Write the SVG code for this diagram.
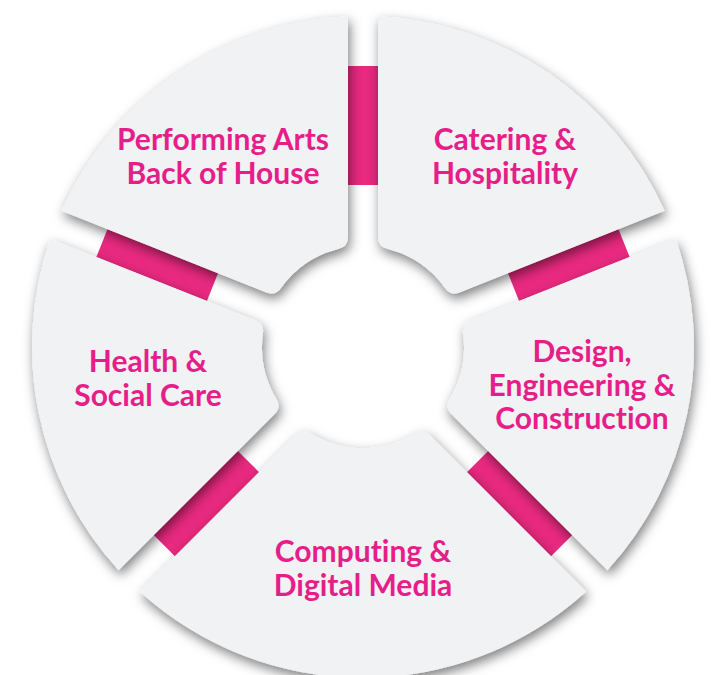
<svg xmlns="http://www.w3.org/2000/svg" width="711" height="675" viewBox="0 0 711 675">
<defs>
<style>
.seg{fill:#F1F2F4;filter:url(#sh);}
.bar{fill:#E8297F;}
.lbl{font-family:Lato,"Open Sans","Liberation Sans",sans-serif;font-weight:700;font-size:30px;fill:#E61E8A;text-anchor:middle;font-variant-ligatures:none;font-feature-settings:"liga" 0,"dlig" 0;}
</style>
<filter id="sh" x="-20%" y="-20%" width="140%" height="140%">
<feDropShadow dx="2" dy="5" stdDeviation="6" flood-color="#000" flood-opacity="0.5"/>
</filter>
</defs>
<rect width="711" height="675" fill="#FFFFFF"/>
<g id="connectors">
<rect class="bar" x="162" y="-15" width="119" height="30" transform="translate(363,347) rotate(-90)"/>
<rect class="bar" x="162" y="-15" width="119" height="30" transform="translate(363,347) rotate(-21.7)"/>
<rect class="bar" x="162" y="-15" width="119" height="30" transform="translate(363,347) rotate(45)"/>
<rect class="bar" x="162" y="-15" width="119" height="30" transform="translate(363,347) rotate(135)"/>
<rect class="bar" x="162" y="-15" width="119" height="30" transform="translate(363,347) rotate(201.7)"/>
</g>
<g id="performing">
<path class="seg" d="M338.22,249.09 Q348,247.12 348,237.12 L348,16.34 A331,331 0 0 0 61.34,210.81 L266.46,292.43 Q275.75,296.13 281.2,287.76 A101,101 0 0 1 338.22,249.09 Z"/>
<text class="lbl" x="223" y="150">Performing Arts</text>
<text class="lbl" x="223" y="184">Back of House</text>
</g>
<g id="catering">
<path class="seg" d="M387.78,249.09 Q378,247.12 378,237.12 L378,16.34 A331,331 0 0 1 664.66,210.81 L459.54,292.43 Q450.25,296.13 444.8,287.76 A101,101 0 0 0 387.78,249.09 Z"/>
<text class="lbl" x="505" y="150">Catering &amp;</text>
<text class="lbl" x="505" y="184">Hospitality</text>
</g>
<g id="design">
<path class="seg" d="M463.14,333.83 Q461.35,324.01 470.64,320.31 L675.76,238.69 A331,331 0 0 1 607.42,570.2 L451.31,414.09 Q444.24,407.02 449.76,398.7 A101,101 0 0 0 463.14,333.83 Z"/>
<text class="lbl" x="582" y="362">Design,</text>
<text class="lbl" x="582" y="396">Engineering &amp;</text>
<text class="lbl" x="582" y="429">Construction</text>
</g>
<g id="computing">
<path class="seg" d="M414.71,433.76 Q423.02,428.24 430.09,435.31 L586.2,591.42 A331,331 0 0 1 139.8,591.42 L295.91,435.31 Q302.98,428.24 311.29,433.76 A101,101 0 0 0 414.71,433.76 Z"/>
<text class="lbl" x="363" y="562">Computing &amp;</text>
<text class="lbl" x="363" y="596">Digital Media</text>
</g>
<g id="health">
<path class="seg" d="M262.86,333.83 Q264.65,324.01 255.36,320.31 L50.24,238.69 A331,331 0 0 0 118.58,570.2 L274.69,414.09 Q281.76,407.02 276.24,398.7 A101,101 0 0 1 262.86,333.83 Z"/>
<text class="lbl" x="148" y="372">Health &amp;</text>
<text class="lbl" x="148" y="406">Social Care</text>
</g>
</svg>
